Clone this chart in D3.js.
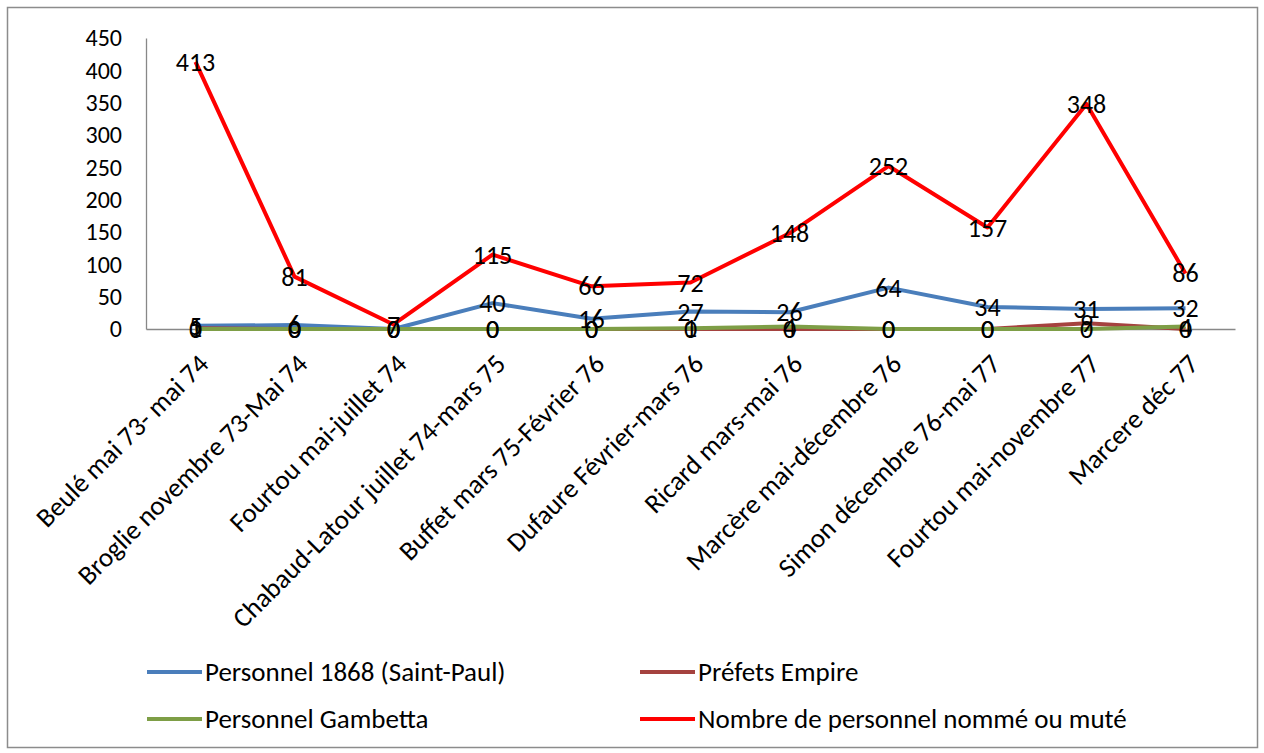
<!DOCTYPE html>
<html><head><meta charset="utf-8">
<script src="https://cdn.jsdelivr.net/npm/d3@7"></script>
<style>
body{margin:0;background:#fff;}
svg{display:block;}
text{font-family:Carlito,'Liberation Sans Narrow','DejaVu Sans Condensed',sans-serif;fill:#000;}
</style></head><body>
<script>
const categories = ["Beulé mai 73- mai 74","Broglie novembre 73-Mai 74","Fourtou mai-juillet 74","Chabaud-Latour juillet 74-mars 75","Buffet mars 75-Février 76","Dufaure Février-mars 76","Ricard mars-mai 76","Marcère mai-décembre 76","Simon décembre 76-mai 77","Fourtou mai-novembre 77","Marcere déc 77"];
const personnel1868 = [5,6,0,40,16,27,26,64,34,31,32];
const prefetsEmpire = [1,0,0,0,0,0,0,0,0,9,0];
const personnelGambetta = [0,0,0,0,0,1,4,0,0,0,4];
const nombrePersonnel = [413,81,7,115,66,72,148,252,157,348,86];
const yTicks = [0,50,100,150,200,250,300,350,400,450];

const series = [
  {name:"Personnel 1868 (Saint-Paul)", values:personnel1868, color:"#4A7EBB"},
  {name:"Préfets Empire", values:prefetsEmpire, color:"#A5423F"},
  {name:"Personnel Gambetta", values:personnelGambetta, color:"#7E9E46"},
  {name:"Nombre de personnel nommé ou muté", values:nombrePersonnel, color:"#FF0000"}
];

const W=1264,H=753;
const svg=d3.select("body").append("svg").attr("width",W).attr("height",H);
svg.append("rect").attr("x",7.5).attr("y",7.5).attr("width",1250).attr("height",740).attr("fill","#fff").attr("stroke","#8c8c8c").attr("stroke-width",1.5);

const x=d3.scaleBand().domain(categories).range([146,1235]).padding(0);
const y=d3.scaleLinear().domain([0,450]).range([329,38]);
const cx=d=>x(d)+x.bandwidth()/2;

// y axis
const ya=svg.append("g").attr("transform","translate(146,0)").call(d3.axisLeft(y).tickValues(yTicks).tickSize(0).tickPadding(24));
ya.select(".domain").attr("stroke","#888").attr("stroke-width",1.3);
ya.selectAll("text").style("font-size","24px").attr("fill","#000");
// x axis
const xa=svg.append("g").attr("transform","translate(0,329)").call(d3.axisBottom(x).tickSize(0).tickSizeOuter(0));
xa.select(".domain").attr("stroke","#888").attr("stroke-width",1.3);
xa.selectAll("text").style("font-size","27px").attr("fill","#000")
  .attr("text-anchor","end").attr("dy","0.35em")
  .attr("transform","translate(8,30) rotate(-45)").attr("x",0).attr("y",0);

const line=d3.line().x((d,i)=>cx(categories[i])).y(d=>y(d));
series.forEach(s=>{
  svg.append("path").datum(s.values).attr("d",line).attr("fill","none")
    .attr("stroke",s.color).attr("stroke-width",4).attr("stroke-linejoin","round");
});
series.forEach(s=>{
  svg.append("g").selectAll("text").data(s.values).join("text")
    .attr("x",(d,i)=>cx(categories[i])).attr("y",d=>y(d)).attr("dy","0.35em")
    .attr("text-anchor","middle").style("font-size","26px").text(d=>d);
});

// legend
const leg=[[147,672],[640,672],[147,719],[640,719]];
series.forEach((s,i)=>{
  const [lx,ly]=leg[i];
  svg.append("line").attr("x1",lx).attr("x2",lx+55).attr("y1",ly).attr("y2",ly)
    .attr("stroke",s.color).attr("stroke-width",4);
  svg.append("text").attr("x",lx+58).attr("y",ly).attr("dy","0.35em").style("font-size","27px").text(s.name);
});
</script></body></html>
